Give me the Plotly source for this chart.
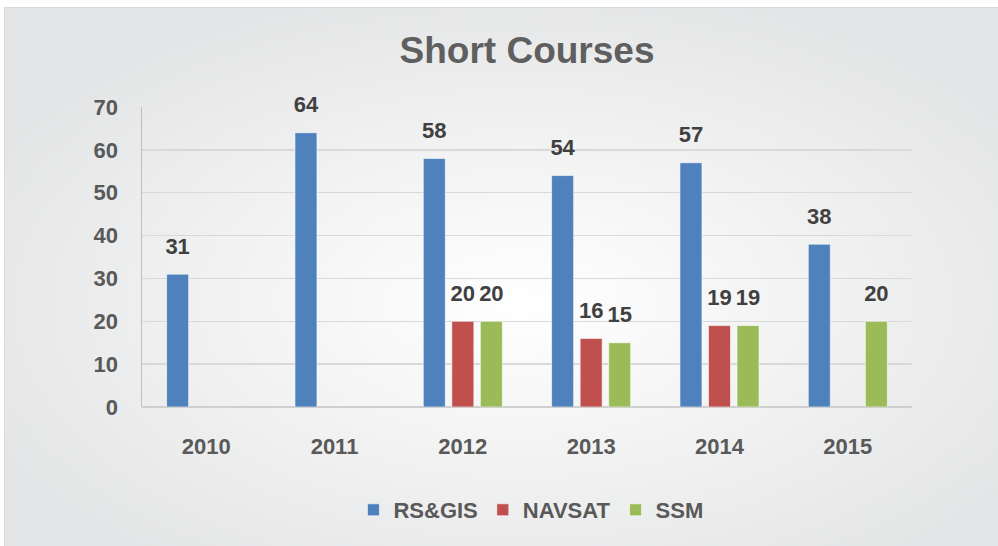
import base64
import plotly.graph_objects as go

years = ["2010", "2011", "2012", "2013", "2014", "2015"]
rs_gis = [31, 64, 58, 54, 57, 38]
navsat = [None, None, 20, 16, 19, None]
ssm = [None, None, 20, 15, 19, 20]
series_names = ["RS&GIS", "NAVSAT", "SSM"]
series_values = [rs_gis, navsat, ssm]
series_colors = ["#4F81BD", "#C0504D", "#9BBB59"]
y_ticks = [0, 10, 20, 30, 40, 50, 60, 70]

FONT = "Liberation Sans, Arial, sans-serif"
W, H = 998, 546
ML, MT = 142, 107
PW, PH = 770, 300
MR, MB = W - ML - PW, H - MT - PH
BX, BY = 4, 7  # top-left corner of the chart-area box

fig = go.Figure()

for name, vals, col in zip(series_names, series_values, series_colors):
    fig.add_trace(go.Bar(
        x=years, y=vals, name=name,
        marker=dict(color=col, line=dict(color="rgba(255,255,255,0.6)", width=1)),
        offsetgroup=name, hoverinfo="skip",
    ))

for name, vals, col in zip(series_names, series_values, series_colors):
    fig.add_trace(go.Scatter(
        x=years, y=vals, mode="markers+text",
        text=[("" if v is None else str(v)) for v in vals],
        textposition="top center",
        textfont=dict(family=FONT, size=22, color="#404040", weight="bold"),
        marker=dict(size=22, opacity=0),
        offsetgroup=name, showlegend=False, hoverinfo="skip", cliponaxis=False,
    ))

# radial gradient background (chart area) with a thin top/left border
GW, GH = W - BX, H - BY
svg = (
    f'<svg xmlns="http://www.w3.org/2000/svg" width="{GW}" height="{GH}" viewBox="0 0 {GW} {GH}" preserveAspectRatio="none">'
    '<defs><radialGradient id="g" cx="52%" cy="55%" r="62%">'
    '<stop offset="0%" stop-color="#ffffff"/>'
    '<stop offset="100%" stop-color="#e3e4e5"/>'
    '</radialGradient></defs>'
    f'<rect x="0" y="0" width="{GW}" height="{GH}" fill="url(#g)"/>'
    f'<path d="M0.5,{GH} V0.5 H{GW}" fill="none" stroke="#d9d9d9" stroke-width="1"/></svg>'
)
src = "data:image/svg+xml;base64," + base64.b64encode(svg.encode()).decode()
fig.add_layout_image(dict(
    source=src, xref="paper", yref="paper",
    x=(BX - ML) / PW, y=(PH + MT - BY) / PH,
    sizex=GW / PW, sizey=GH / PH, sizing="stretch",
    xanchor="left", yanchor="top", layer="below",
))

fig.update_layout(
    width=W, height=H,
    margin=dict(l=ML, r=MR, t=MT, b=MB),
    paper_bgcolor="white", plot_bgcolor="rgba(0,0,0,0)",
    barmode="group", bargap=0.333, bargroupgap=0.228,
    scattermode="group", scattergap=0.333,
    title=dict(text="<b>Short Courses</b>", x=0.5, xref="paper", xanchor="center",
               y=1 - 50 / H, yref="container", yanchor="middle",
               font=dict(family=FONT, size=37, color="#5f5f5f")),
    font=dict(family=FONT, color="#595959"),
    legend=dict(orientation="h", xref="container", x=0.532, xanchor="center",
                yref="container", y=1 - 510 / H, yanchor="middle",
                font=dict(family=FONT, size=22, color="#595959", weight="bold"),
                bgcolor="rgba(0,0,0,0)", itemclick=False),
    xaxis=dict(showgrid=False, showline=False, zeroline=False, ticks="",
               tickfont=dict(family=FONT, size=22, color="#595959", weight="bold"),
               ticklabelstandoff=24, fixedrange=True),
    yaxis=dict(range=[0, 70], tickvals=y_ticks, showgrid=True, gridcolor="#d9d9d9",
               gridwidth=1.5, showline=True, linecolor="#bfbfbf", linewidth=1.5,
               zeroline=True, zerolinecolor="#cfcfcf", zerolinewidth=2, ticks="",
               tickfont=dict(family=FONT, size=22, color="#595959", weight="bold"),
               ticklabelstandoff=18, fixedrange=True),
)

fig.write_html(
    "out.html",
    config={"displayModeBar": False, "staticPlot": True},
    post_script="document.body.style.margin='0';document.body.style.overflow='hidden';",
)
